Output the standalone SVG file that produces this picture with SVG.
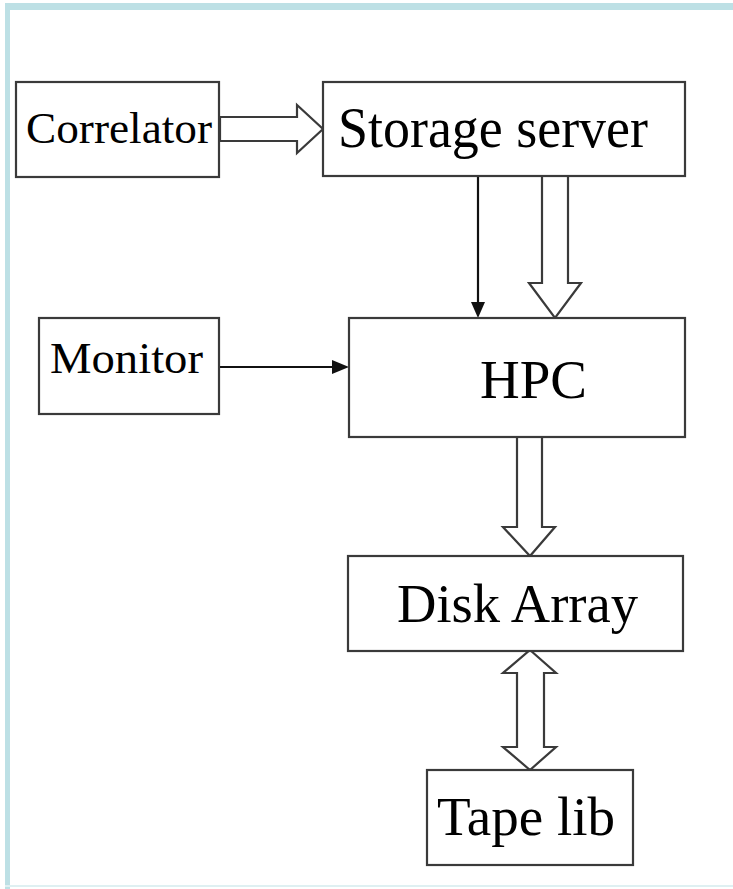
<svg xmlns="http://www.w3.org/2000/svg" width="733" height="889" viewBox="0 0 733 889">
<style>
.box{fill:#fff;stroke:#3a3a3a;stroke-width:2.2}
.hollow{fill:#fff;stroke:#3a3a3a;stroke-width:2.2;stroke-linejoin:miter}
.thin{stroke:#111;stroke-width:2.2;fill:none}
.head{fill:#111;stroke:none}
text{font-family:"Liberation Serif","Times New Roman",serif;fill:#000;text-anchor:middle}
</style>
<rect x="0" y="0" width="733" height="889" fill="#fff"/>
<g id="frame">
<rect x="5" y="3" width="728" height="7" fill="#bde0e5"/>
<rect x="5" y="3" width="5" height="886" fill="#bde0e5"/>
<rect x="5" y="885" width="728" height="2" fill="#dff0f2"/>
</g>
<g id="connectors">
<polygon class="hollow" points="220,117 297,117 297,105 323,129 297,153 297,141 220,141"/>
<line class="thin" x1="478" y1="176" x2="478" y2="305"/>
<polygon class="head" points="471,302 485,302 478,318"/>
<polygon class="hollow" points="542,176 568,176 568,283 581,283 555,318 529,283 542,283"/>
<line class="thin" x1="219" y1="367" x2="336" y2="367"/>
<polygon class="head" points="332,360 332,374 349,367"/>
<polygon class="hollow" points="517,437 542,437 542,527 555,527 530,556 503,527 517,527"/>
<polygon class="hollow" points="530,650 556,673 544,673 544,747 556,747 530,770 503,747 517,747 517,673 503,673"/>
</g>
<g id="correlator">
<rect class="box" x="16" y="82" width="203" height="95"/>
<text x="119" y="143" font-size="45" textLength="186" lengthAdjust="spacingAndGlyphs">Correlator</text>
</g>
<g id="storage">
<rect class="box" x="323" y="82" width="362" height="94"/>
<text x="493" y="147" font-size="56" textLength="310" lengthAdjust="spacingAndGlyphs">Storage server</text>
</g>
<g id="monitor">
<rect class="box" x="39" y="318" width="180" height="96"/>
<text x="126.5" y="373" font-size="45" textLength="153" lengthAdjust="spacingAndGlyphs">Monitor</text>
</g>
<g id="hpc">
<rect class="box" x="349" y="318" width="336" height="119"/>
<text x="533.5" y="398" font-size="54" textLength="107" lengthAdjust="spacingAndGlyphs">HPC</text>
</g>
<g id="disk">
<rect class="box" x="348" y="556" width="335" height="95"/>
<text x="517.5" y="622" font-size="54" textLength="241" lengthAdjust="spacingAndGlyphs">Disk Array</text>
</g>
<g id="tape">
<rect class="box" x="427" y="770" width="206" height="95"/>
<text x="526" y="835" font-size="54" textLength="178" lengthAdjust="spacingAndGlyphs">Tape lib</text>
</g>
</svg>
